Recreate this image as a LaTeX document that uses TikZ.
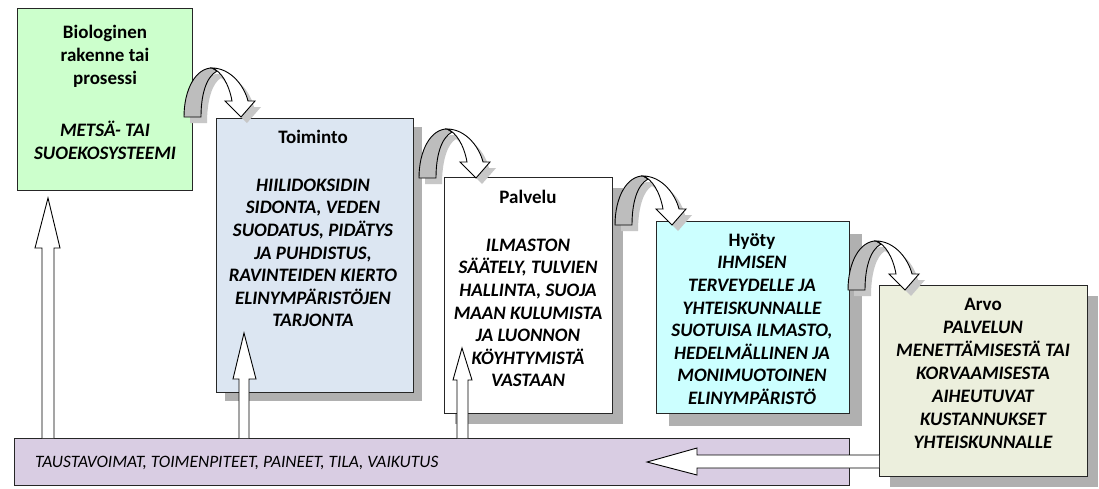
\documentclass[tikz,border=0pt]{standalone}
\usepackage{fontspec}
\setmainfont{Carlito}
\usetikzlibrary{shadows}
\definecolor{cgreen}{HTML}{CCFFCC}
\definecolor{cblue}{HTML}{DCE6F2}
\definecolor{ccyan}{HTML}{CCFFFF}
\definecolor{colive}{HTML}{ECEFDD}
\definecolor{cpurple}{HTML}{D9CDE3}
\definecolor{cshadow}{HTML}{B0B0B0}
\definecolor{cback}{HTML}{BDBDBD}
\tikzset{
  pics/curvarr/.style={code={
    \fill[black!22, shift={(6,6)}] (0,0) .. controls (0,-28) and (12,-49) .. (28,-49)
      .. controls (46,-49) and (60,-32) .. (64,-16) -- (71,-16) -- (57,0) -- (41,-16) -- (48,-16)
      .. controls (44,-30) and (36,-42) .. (31,-45) .. controls (22,-40) and (17,-22) .. (17,0) -- cycle;
    \filldraw[fill=cback, draw=black, line width=0.9pt] (0,0) .. controls (0,-28) and (12,-49) .. (28,-49)
      -- (33,-46) .. controls (22,-40) and (17,-22) .. (17,0) -- cycle;
    \filldraw[fill=white, draw=black, line width=0.9pt, line join=miter] (28,-49)
      .. controls (46,-49) and (60,-32) .. (64,-16) -- (71,-16) -- (57,0) -- (41,-16) -- (48,-16)
      .. controls (45,-33) and (37,-46) .. (28,-49) -- cycle;
  }}
}
\begin{document}
\begin{tikzpicture}[x=1pt,y=-1pt,
  box/.style={draw=black!85, line width=1pt, anchor=north west, inner sep=0pt},
  shad/.style={general shadow={fill=cshadow, shadow xshift=#1pt, shadow yshift=-#1pt}},
  txt/.style={align=center, inner sep=0pt, font=\fontsize{19}{22.6}\selectfont\bfseries\itshape},
  blockarr/.style={fill=white, draw=black, line width=0.9pt, line join=miter}]
\useasboundingbox (0,0) rectangle (1099,488);
\fill[white] (0,0) rectangle (1099,488);

% background bar
\node[box, fill=cpurple, minimum width=835, minimum height=47] (bar) at (14,438) {};
\node[anchor=west, inner sep=0pt, font=\fontsize{17.4}{22}\selectfont\itshape] (bartxt) at (35,463)
  {TAUSTAVOIMAT, TOIMENPITEET, PAINEET, TILA, VAIKUTUS};

% boxes
\node[box, fill=cgreen, minimum width=175, minimum height=182] (bio) at (17,8) {};
\node[box, fill=cblue, shad=8, minimum width=197, minimum height=274] (toim) at (216,118) {};
\node[box, fill=white, shad=10, minimum width=168, minimum height=236] (palv) at (444,177) {};
\node[font=\fontsize{19}{22}\selectfont\bfseries\itshape, text=black!42, inner sep=0pt] (ghost) at (763,416) {ELINYMPÄRISTÖ};
\node[box, fill=ccyan, shad=12, minimum width=193, minimum height=192] (hyot) at (656,221) {};
\node[box, fill=colive, shad=10, minimum width=208, minimum height=191] (arvo) at (879,285) {};

% texts
\node[txt, font=\fontsize{19}{23}\selectfont\bfseries\itshape] (biotxt) at (105,92)
  {{\upshape Biologinen}\\{\upshape rakenne tai}\\{\upshape prosessi}\\[29pt] METSÄ- TAI\\SUOEKOSYSTEEMI};
\node[txt] (toimtxt) at (313,228.5)
  {{\upshape Toiminto}\\[25.4pt] HIILIDOKSIDIN\\SIDONTA, VEDEN\\SUODATUS, PIDÄTYS\\JA PUHDISTUS,\\RAVINTEIDEN KIERTO\\ELINYMPÄRISTÖJEN\\TARJONTA};
\node[txt] (palvtxt) at (528,288.5)
  {{\upshape Palvelu}\\[25.4pt] ILMASTON\\SÄÄTELY, TULVIEN\\HALLINTA, SUOJA\\MAAN KULUMISTA\\JA LUONNON\\KÖYHTYMISTÄ\\VASTAAN};
\node[txt] (hyottxt) at (752,319)
  {{\upshape Hyöty}\\IHMISEN\\TERVEYDELLE JA\\YHTEISKUNNALLE\\SUOTUISA ILMASTO,\\HEDELMÄLLINEN JA\\MONIMUOTOINEN\\ELINYMPÄRISTÖ};
\node[txt, font=\fontsize{19}{23}\selectfont\bfseries\itshape] (arvotxt) at (983,373)
  {{\upshape Arvo}\\PALVELUN\\MENETTÄMISESTÄ TAI\\KORVAAMISESTA\\AIHEUTUVAT\\KUSTANNUKSET\\YHTEISKUNNALLE};

% up block arrows from the bar
\draw[blockarr] (42,438) -- (42,248) -- (35,248) -- (48,198) -- (60,248) -- (54,248) -- (54,438);
\draw[blockarr] (239,438) -- (239,379) -- (233,379) -- (244,333) -- (256,379) -- (249,379) -- (249,438);
\draw[blockarr] (457,438) -- (457,380) -- (453,380) -- (462,348) -- (472,380) -- (468,380) -- (468,438);

% left block arrow from Arvo to the bar
\draw[blockarr] (879,455) -- (697,455) -- (697,448) -- (647,462) -- (697,475) -- (697,468) -- (879,468);

% curved arrows between the steps
\pic at (184,117) {curvarr};
\pic at (419,178) {curvarr};
\pic at (615,225) {curvarr};
\pic at (848,290) {curvarr};
\end{tikzpicture}
\end{document}
